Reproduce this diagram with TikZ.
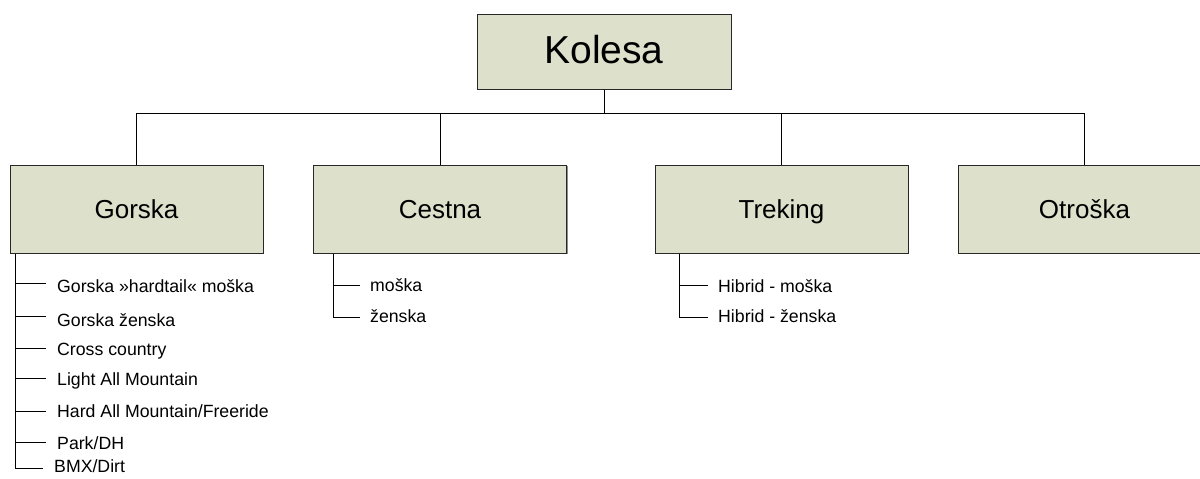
\documentclass[tikz,border=0pt]{standalone}
\usepackage{fontspec}
\setmainfont{Liberation Sans}
\usetikzlibrary{shadows}
\definecolor{boxfill}{RGB}{221,224,203}
\definecolor{boxline}{RGB}{40,40,40}
\begin{document}
\begin{tikzpicture}[x=1pt,y=-1pt,
  box/.style={draw=boxline,line width=1pt,fill=boxfill,minimum width=253pt,minimum height=88pt,inner sep=0pt,
    text height=18.6pt,text depth=0pt,
    drop shadow={shadow xshift=1.2pt,shadow yshift=-1.2pt,fill=black!45,opacity=1},font=\fontsize{26}{30}\selectfont},
  topbox/.style={box,minimum width=254pt,minimum height=75pt,text height=28pt,text depth=5pt,font=\fontsize{39}{44}\selectfont},
  item/.style={anchor=base west,inner sep=0pt,font=\fontsize{17.7}{20}\selectfont},
  conn/.style={draw=black,line width=1pt}]
\useasboundingbox (0,0) rectangle (1200,479);
\clip (0,0) rectangle (1200,479);
\node[topbox] (top) at (604,51.5) {Kolesa};
\node[box] (gorska) at (136.5,209) {Gorska};
\node[box] (cestna) at (440,209) {Cestna};
\node[box] (treking) at (781.5,209) {Treking};
\node[box] (otroska) at (1084.5,209) {Otroška};
\foreach \c in {gorska,cestna,treking,otroska}
  \draw[conn] (top.south) -- ++(0,24) -| (\c.north);
% Gorska list
\coordinate (gs) at ([xshift=6pt]gorska.south west);
\foreach \n/\ty/\by/\tx/\t in {1/283/292/57/{Gorska »hardtail« moška},2/316/326/57/{Gorska ženska},3/348/355/57/{Cross country},4/378/385/57/{Light All Mountain},5/411/417/57/{Hard All Mountain/Freeride},6/442/449/57/{Park/DH},7/468/472/54/{BMX/Dirt}}{
  \node[item] (g\n) at (\tx,\by) {\t};
  \coordinate (g\n t) at ([shift={(-11pt,\ty-\by)}]g\n.base west);
  \draw[conn] (gs |- g\n t) -- (g\n t);
}
\draw[conn] (gs) |- (g7t);
% Cestna list
\coordinate (cs) at ([xshift=20pt]cestna.south west);
\foreach \n/\ty/\by/\t in {1/285/291/{moška},2/317/322/{ženska}}{
  \node[item] (c\n) at (370,\by) {\t};
  \coordinate (c\n t) at ([shift={(-10pt,\ty-\by)}]c\n.base west);
}
\draw[conn] (cs |- c1t) -- (c1t);
\draw[conn] (cs) |- (c2t);
% Treking list
\coordinate (ts) at ([xshift=25pt]treking.south west);
\foreach \n/\ty/\by/\t in {1/285/292/{Hibrid - moška},2/317/322/{Hibrid - ženska}}{
  \node[item] (t\n) at (718,\by) {\t};
  \coordinate (t\n t) at ([shift={(-10pt,\ty-\by)}]t\n.base west);
}
\draw[conn] (ts |- t1t) -- (t1t);
\draw[conn] (ts) |- (t2t);
\end{tikzpicture}
\end{document}
